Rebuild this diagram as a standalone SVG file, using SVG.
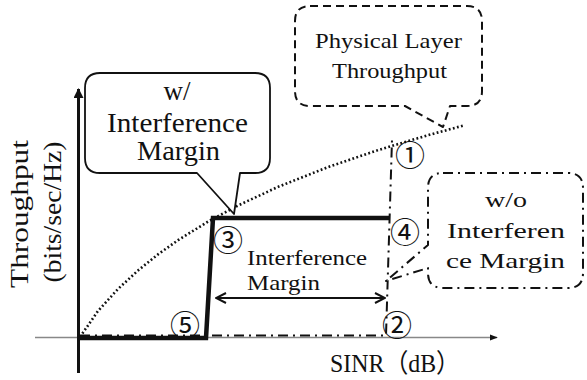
<svg xmlns="http://www.w3.org/2000/svg" width="587" height="380" viewBox="0 0 587 380">
<style>
.t{font-family:'Liberation Serif','Times New Roman','Noto Sans CJK JP',serif;fill:#111;font-weight:normal}
.b{font-size:27px}
.m{font-size:22px}
.ax{font-size:26px}
.num{font-family:'Noto Sans CJK JP','DejaVu Sans',sans-serif;font-size:30px;text-anchor:middle;dominant-baseline:central;fill:#111}
.box{fill:#fff;stroke:#111;stroke-linejoin:round}
</style>
<defs>
<marker id="tri" viewBox="0 0 10 10" refX="9" refY="5" markerWidth="10" markerHeight="10" markerUnits="userSpaceOnUse" orient="auto">
<path d="M0,0 L10,5 L0,10 Z" fill="#111"/>
</marker>
<marker id="triS" viewBox="0 0 10 10" refX="9" refY="5" markerWidth="8" markerHeight="8" markerUnits="userSpaceOnUse" orient="auto">
<path d="M0,1 L10,5 L0,9 Z" fill="#111"/>
</marker>
<marker id="chev" viewBox="0 0 12 12" refX="11" refY="6" markerWidth="12" markerHeight="12" markerUnits="userSpaceOnUse" orient="auto-start-reverse">
<path d="M1,1 L11,6 L1,11" fill="none" stroke="#111" stroke-width="2"/>
</marker>
</defs>
<rect width="587" height="380" fill="#fff"/>
<g id="connectors">
<line x1="35" y1="337.5" x2="497" y2="337.5" stroke="#888" stroke-width="1.5" marker-end="url(#triS)"/>
<line x1="78.5" y1="373" x2="78.5" y2="89" stroke="#111" stroke-width="3" marker-end="url(#tri)"/>
<polyline points="80,337 98,311 118,289 138,270.5 158,254.4 178,240.2 208,221.6 238,205.5 278,186.9 328,167.1 378,150.1 428,135.2 463,125.7" fill="none" stroke="#111" stroke-width="2.6" stroke-dasharray="1.8,2.4"/>
<polyline points="80,335.5 386,335.5 392,140" fill="none" stroke="#111" stroke-width="2" stroke-dasharray="10,5,2,5"/>
<polyline points="78,338 206,338 213,218 389,218" fill="none" stroke="#111" stroke-width="4.5" stroke-linejoin="miter"/>
<line x1="216" y1="298" x2="385" y2="298" stroke="#111" stroke-width="2" marker-start="url(#chev)" marker-end="url(#chev)"/>
</g>
<g id="box-with-margin">
<path class="box" stroke-width="1.8" d="M100,73 H255 Q270,73 270,88 V158 Q270,173 255,173 H240 L234,214 L197,173 H100 Q85,173 85,158 V88 Q85,73 100,73 Z"/>
<text class="t b" x="177" y="100" text-anchor="middle" textLength="27" lengthAdjust="spacingAndGlyphs">w/</text>
<text class="t b" x="107" y="132" textLength="141" lengthAdjust="spacingAndGlyphs">Interference</text>
<text class="t b" x="137" y="160" textLength="83" lengthAdjust="spacingAndGlyphs">Margin</text>
</g>
<g id="box-physical">
<path class="box" stroke-width="2" stroke-dasharray="8,5" d="M310,6 H467 Q482,6 482,21 V91 Q482,106 467,106 H450 L443,127 L405,106 H310 Q295,106 295,91 V21 Q295,6 310,6 Z"/>
<text class="t m" x="315" y="48" textLength="147" lengthAdjust="spacingAndGlyphs">Physical Layer</text>
<text class="t m" x="332" y="78" textLength="115" lengthAdjust="spacingAndGlyphs">Throughput</text>
</g>
<g id="box-without-margin">
<path class="box" stroke-width="2" stroke-dasharray="10,5,2,5" d="M443,173 H568 Q583,173 583,188 V273 Q583,288 568,288 H443 Q428,288 428,273 V268 L386,281 L428,245 V188 Q428,173 443,173 Z"/>
<text class="t m" x="506" y="207" text-anchor="middle" textLength="42" lengthAdjust="spacingAndGlyphs">w/o</text>
<text class="t m" x="447" y="238" textLength="118" lengthAdjust="spacingAndGlyphs">Interferen</text>
<text class="t m" x="446" y="268" textLength="119" lengthAdjust="spacingAndGlyphs">ce Margin</text>
</g>
<g id="label-margin">
<text class="t m" x="247" y="265" textLength="120" lengthAdjust="spacingAndGlyphs">Interference</text>
<text class="t m" x="247" y="290" textLength="73" lengthAdjust="spacingAndGlyphs">Margin</text>
</g>
<g id="points">
<text class="num" x="410" y="153">①</text>
<text class="num" x="397" y="323">②</text>
<text class="num" x="228" y="238">③</text>
<text class="num" x="405" y="230">④</text>
<text class="num" x="185" y="323">⑤</text>
</g>
<g id="axis-labels">
<text class="t ax" transform="translate(28,214) rotate(-90)" text-anchor="middle" textLength="148" lengthAdjust="spacingAndGlyphs">Throughput</text>
<text class="t ax" transform="translate(61,212) rotate(-90)" text-anchor="middle" textLength="141" lengthAdjust="spacingAndGlyphs">(bits/sec/Hz)</text>
<text class="t ax" x="330" y="372" textLength="130" lengthAdjust="spacingAndGlyphs">SINR（dB）</text>
</g>
</svg>
